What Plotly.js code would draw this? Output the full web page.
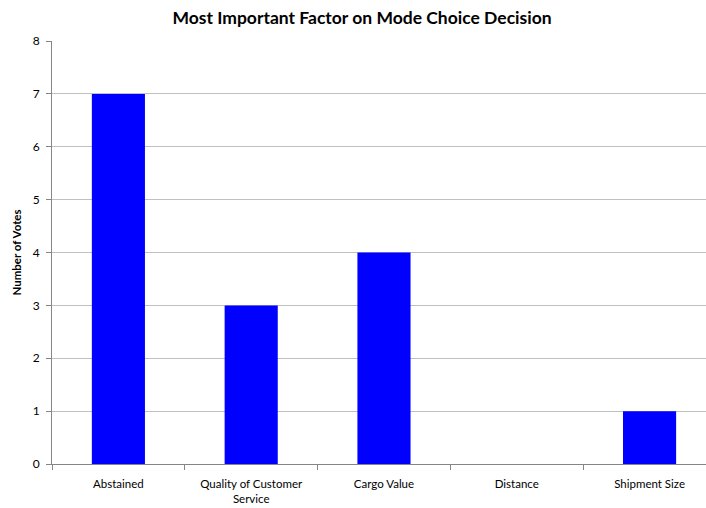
<!DOCTYPE html>
<html>
<head>
<meta charset="utf-8">
<script src="https://cdn.plot.ly/plotly-3.0.1.min.js"></script>
<style>html,body{margin:0;padding:0;background:#fff;}#chart{width:706px;height:508px;}</style>
</head>
<body>
<div id="chart"></div>
<script>
const categories = ["Abstained", "Quality of Customer<br>Service", "Cargo Value", "Distance", "Shipment Size"];
const votes = [7, 3, 4, 0, 1];
const yTicks = [0, 1, 2, 3, 4, 5, 6, 7, 8];

const font = "Lato, 'Open Sans', 'DejaVu Sans', sans-serif";

Plotly.newPlot("chart", [{
  type: "bar",
  x: categories,
  y: votes,
  width: 0.4,
  marker: {color: "#0000ff", line: {width: 0}},
  hoverinfo: "x+y"
}], {
  width: 706,
  height: 508,
  margin: {l: 52, r: 0, t: 41, b: 44},
  paper_bgcolor: "#ffffff",
  plot_bgcolor: "#ffffff",
  showlegend: false,
  font: {family: font, color: "#000000", size: 11},
  title: {
    text: "<b>Most Important Factor on Mode Choice Decision</b>",
    font: {family: font, size: 17.5, color: "#000000"},
    x: 362 / 706, xanchor: "center",
    y: 1 - 18 / 508, yanchor: "middle"
  },
  xaxis: {
    type: "category",
    range: [-0.5, 4.425],
    showline: true, linecolor: "#868686", linewidth: 1,
    ticks: "outside", tickson: "boundaries", ticklen: 5, tickcolor: "#868686",
    ticklabelstandoff: 9,
    showgrid: false,
    tickfont: {family: font, size: 11.5, color: "#000000"},
    fixedrange: true
  },
  yaxis: {
    range: [0, 8],
    tickvals: yTicks,
    ticktext: yTicks.map(String),
    showline: true, linecolor: "#868686", linewidth: 1,
    ticks: "outside", ticklen: 5, tickcolor: "#868686",
    ticklabelstandoff: 4,
    showgrid: true, gridcolor: "#c0c0c0", gridwidth: 1,
    zeroline: false,
    tickfont: {family: font, size: 12, color: "#000000"},
    title: {text: "<b>Number of Votes</b>", font: {family: font, size: 11.5, color: "#000000"}, standoff: 8},
    fixedrange: true
  }
}, {displayModeBar: false, staticPlot: true});
</script>
</body>
</html>
